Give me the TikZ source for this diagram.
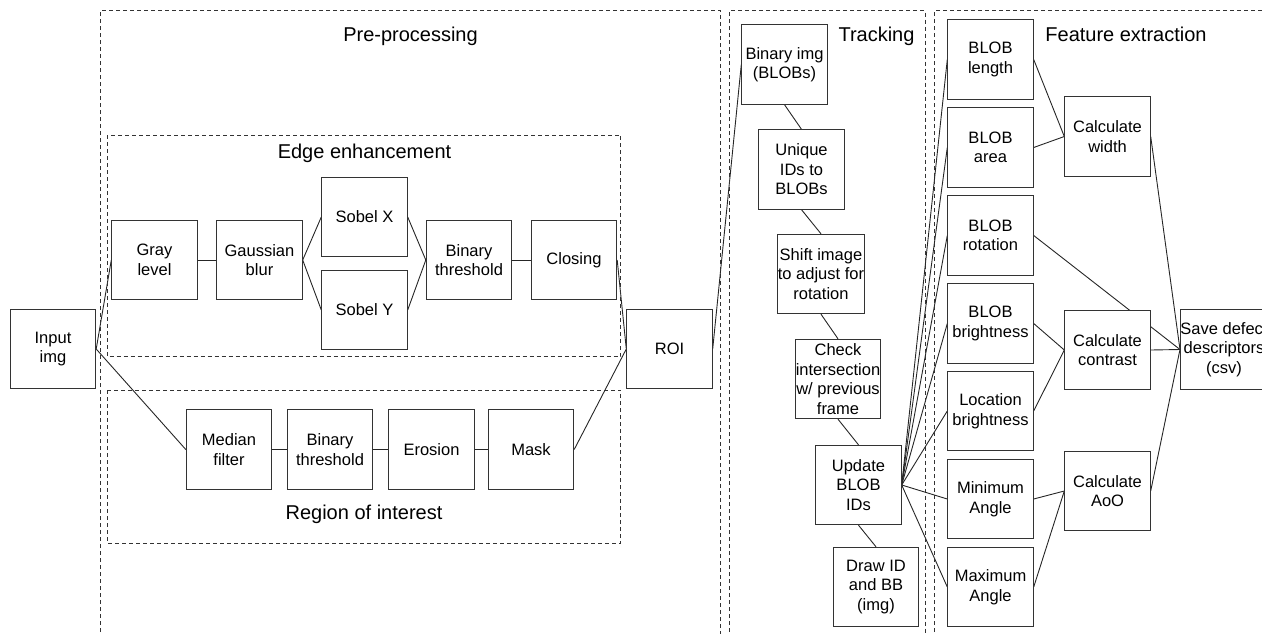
\documentclass[tikz,border=0pt]{standalone}
\usepackage{fontspec}
\setmainfont{Liberation Sans}
\usetikzlibrary{backgrounds}
\begin{document}
\begin{tikzpicture}[x=1pt,y=-1pt,
  proc/.style={draw=black!80, line width=0.9pt, fill=white, minimum width=85.5pt, minimum height=79.5pt,
    inner sep=0pt, align=center, font=\fontsize{16.5}{19.5}\selectfont},
  group/.style={draw=black!80, line width=0.9pt, dash pattern=on 4pt off 3pt},
  title/.style={font=\fontsize{20}{24}\selectfont, inner sep=0pt},
  link/.style={draw=black!85, line width=0.9pt}]
\clip (0,0) rectangle (1262,633);
% group boxes
\draw[group] (100.7,660) -- (100.7,10.7) -- (720.7,10.7) -- (720.7,660);
\draw[group] (729.3,660) -- (729.3,10.7) -- (925,10.7) -- (925,660);
\draw[group] (934.3,660) -- (934.3,10.7) -- (1300,10.7);
\draw[group] (107.3,135) rectangle (620.7,356.7);
\draw[group] (107.3,390) rectangle (620.7,543.3);
% titles
\node[title] (tpre) at (410.5,36) {Pre-processing};
\node[title] (tedge) at (364.5,153) {Edge enhancement};
\node[title] (troi) at (364,514) {Region of interest};
\node[title] (ttrack) at (876.5,36) {Tracking};
\node[title] (tfeat) at (1126,34) {Feature extraction};
% pre-processing
\node[proc] (inp) at (53,349) {Input\\img};
\node[proc] (gray) at (154.5,260) {Gray\\level};
\node[proc] (gauss) at (259.5,260) {Gaussian\\blur};
\node[proc] (sobx) at (364.5,217) {Sobel X};
\node[proc] (soby) at (364.5,310) {Sobel Y};
\node[proc] (bin1) at (469,260) {Binary\\threshold};
\node[proc] (clos) at (574,260) {Closing};
\node[proc] (roi) at (669.5,349) {ROI};
\node[proc] (med) at (229,449.5) {Median\\filter};
\node[proc] (bin2) at (330,449.5) {Binary\\threshold};
\node[proc] (ero) at (431.5,449.5) {Erosion};
\node[proc] (mask) at (531,449.5) {Mask};
% tracking
\node[proc] (bimg) at (784.5,64.5) {Binary img\\(BLOBs)};
\node[proc] (uniq) at (801.5,169.5) {Unique\\IDs to\\BLOBs};
\node[proc] (shift) at (821,274) {Shift image\\to adjust for\\rotation};
\node[proc] (check) at (838,379) {Check\\intersection\\w/ previous\\frame};
\node[proc] (upd) at (858.5,485) {Update\\BLOB\\IDs};
\node[proc] (drw) at (876,587) {Draw ID\\and BB\\(img)};
% features
\node[proc] (blen) at (990.5,59.5) {BLOB\\length};
\node[proc] (barea) at (990.5,147.5) {BLOB\\area};
\node[proc] (brot) at (990.5,235.5) {BLOB\\rotation};
\node[proc] (bbri) at (990.5,323.5) {BLOB\\brightness};
\node[proc] (lbri) at (990.5,411) {Location\\brightness};
\node[proc] (mina) at (990.5,499) {Minimum\\Angle};
\node[proc] (maxa) at (990.5,587) {Maximum\\Angle};
\node[proc] (cw) at (1107.5,136.5) {Calculate\\width};
\node[proc] (cc) at (1107.5,350) {Calculate\\contrast};
\node[proc] (caoo) at (1107.5,491) {Calculate\\AoO};
\node[proc] (save) at (1224,349.5) {Save defect\\descriptors\\(csv)};
% connectors
\begin{pgfonlayer}{background}
\path[link] (inp.east) -- (gray.west);
\path[link] (inp.east) -- (med.west);
\path[link] (gray) -- (gauss);
\path[link] (gauss.east) -- (sobx.west);
\path[link] (gauss.east) -- (soby.west);
\path[link] (sobx.east) -- (bin1.west);
\path[link] (soby.east) -- (bin1.west);
\path[link] (bin1) -- (clos);
\path[link] (clos.east) -- (roi.west);
\path[link] (med) -- (bin2);
\path[link] (bin2) -- (ero);
\path[link] (ero) -- (mask);
\path[link] (mask.east) -- (roi.west);
\path[link] (roi.east) -- (bimg.west);
\path[link] (bimg.south) -- (uniq.north);
\path[link] (uniq.south) -- (shift.north);
\path[link] (shift.south) -- (check.north);
\path[link] (check.south) -- (upd.north);
\path[link] (upd.south) -- (drw.north);
\foreach \f in {blen,barea,brot,bbri,lbri,mina,maxa}
  \path[link] (upd.east) -- (\f.west);
\path[link] (blen.east) -- (cw.west);
\path[link] (barea.east) -- (cw.west);
\path[link] (brot.east) -- (save.west);
\path[link] (bbri.east) -- (cc.west);
\path[link] (lbri.east) -- (cc.west);
\path[link] (mina.east) -- (caoo.west);
\path[link] (maxa.east) -- (caoo.west);
\path[link] (cw.east) -- (save.west);
\path[link] (cc.east) -- (save.west);
\path[link] (caoo.east) -- (save.west);
\end{pgfonlayer}
\end{tikzpicture}
\end{document}
